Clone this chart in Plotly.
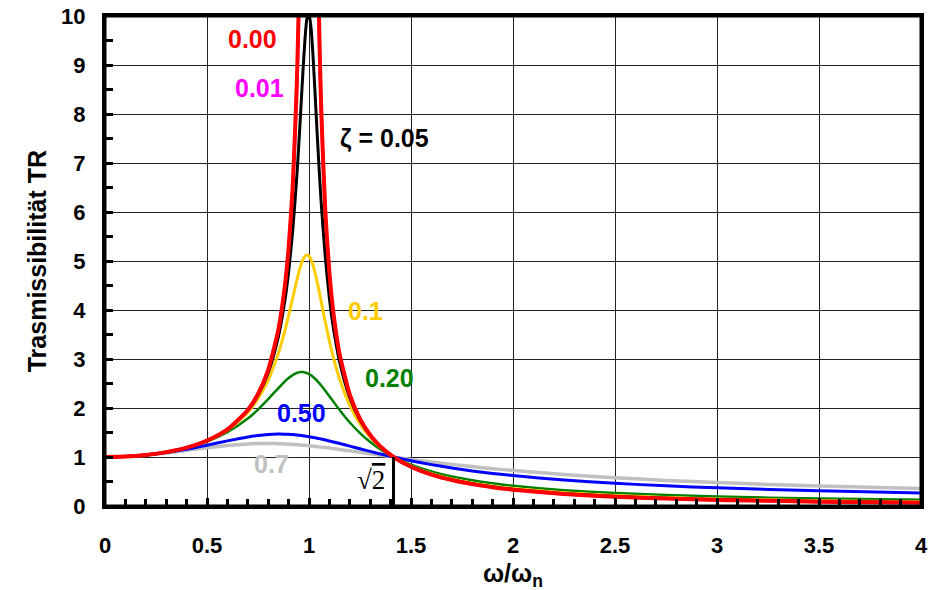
import plotly.graph_objects as go

# frequency ratio omega/omega_n (shared x values)
ratio = [0, 0.1, 0.2, 0.3, 0.4, 0.5, 0.6, 0.7, 0.75, 0.8, 0.85, 0.88, 0.9, 0.92, 0.94,
         0.95, 0.96, 0.97, 0.98, 0.99, 1.0, 1.01, 1.02, 1.03, 1.04, 1.05, 1.06, 1.08,
         1.1, 1.12, 1.15, 1.2, 1.25, 1.3, 1.35, 1.4142, 1.5, 1.6, 1.7, 1.8, 1.9, 2.0,
         2.25, 2.5, 2.75, 3.0, 3.5, 4.0]

tr_000 = [1, 1.0101, 1.0417, 1.0989, 1.1905, 1.3333, 1.5625, 1.9608, 2.2857, 2.7778,
          3.6036, 4.4326, 5.2632, 6.5104, 8.5911, 10.256, 12.755, 16.92, 25.25, 50.25,
          None, 49.75, 24.75, 16.42, 12.255, 9.7561, 8.0906, 6.0096, 4.7619, 3.9308,
          3.1008, 2.2727, 1.7778, 1.4493, 1.2158, 1.0, 0.8, 0.64103, 0.5291, 0.44643,
          0.38314, 0.33333, 0.24615, 0.19048, 0.15238, 0.125, 0.088889, 0.066667]

tr_001 = [1, 1.0101, 1.0417, 1.0989, 1.1905, 1.3333, 1.5623, 1.9602, 2.2846, 2.7754,
          3.5974, 4.420, 5.2405, 6.465, 8.483, 10.069, 12.391, 16.08, 22.63, 35.62,
          50.01, 35.10, 22.10, 15.56, 11.878, 9.560, 7.976, 5.961, 4.737, 3.9166,
          3.0937, 2.2700, 1.7766, 1.4487, 1.2156, 1.0, 0.80013, 0.6412, 0.5293, 0.4467,
          0.3834, 0.33357, 0.2463, 0.1906, 0.1525, 0.1252, 0.0891, 0.066879]

tr_005 = [1, 1.0101, 1.0416, 1.0988, 1.1901, 1.3320, 1.5585, 1.9473, 2.2592, 2.7203,
          3.4580, 4.1456, 4.7757, 5.6088, 6.7133, 7.3791, 8.1051, 8.8452, 9.5063, 9.9514,
          10.050, 9.7600, 9.1623, 8.4014, 7.6055, 6.8525, 6.1759, 5.0702, 4.2437, 3.6201,
          2.9398, 2.2084, 1.7489, 1.4362, 1.2106, 1.0, 0.80319, 0.6458, 0.53453, 0.45215,
          0.38897, 0.33918, 0.25192, 0.19612, 0.1579, 0.13041, 0.094131, 0.071777]

tr_010 = [1, 1.0101, 1.0416, 1.0985, 1.1889, 1.3282, 1.5468, 1.9093, 2.1863, 2.5707,
          3.1169, 3.5486, 3.8822, 4.2422, 4.6017, 4.7664, 4.9099, 5.0228, 5.0962, 5.1228,
          5.0990, 5.0257, 4.9076, 4.7529, 4.5713, 4.3727, 4.1656, 3.7521, 3.3666, 3.0233,
          2.5904, 2.0519, 1.6745, 1.4013, 1.1965, 1.0, 0.81216, 0.65932, 0.55002, 0.46847,
          0.4056, 0.35586, 0.26829, 0.212, 0.1733, 0.14537, 0.10829, 0.085254]

tr_020 = [1, 1.0101, 1.0414, 1.0973, 1.1843, 1.3138, 1.5046, 1.7849, 1.9681, 2.1798,
          2.4067, 2.5357, 2.6110, 2.6721, 2.7143, 2.7268, 2.7332, 2.7330, 2.7261, 2.7126,
          2.6926, 2.6663, 2.6343, 2.5969, 2.5549, 2.5088, 2.4594, 2.3531, 2.2409, 2.1269,
          1.9593, 1.7035, 1.4856, 1.3045, 1.1551, 1.0, 0.84108, 0.70412, 0.60206, 0.52372,
          0.46204, 0.41246, 0.32333, 0.26462, 0.22342, 0.1931, 0.15176, 0.12508]

tr_050 = [1, 1.0100, 1.0400, 1.0896, 1.1576, 1.2403, 1.3293, 1.4094, 1.4396, 1.4598,
          1.4678, 1.4663, 1.4626, 1.4568, 1.4490, 1.4443, 1.4392, 1.4336, 1.4276, 1.4211,
          1.4142, 1.4070, 1.3993, 1.3913, 1.3830, 1.3744, 1.3655, 1.3470, 1.3275, 1.3073,
          1.2760, 1.2221, 1.1678, 1.1144, 1.0628, 1.0, 0.92329, 0.84434, 0.77587, 0.71656,
          0.66508, 0.62017, 0.5302, 0.46306, 0.41125, 0.37012, 0.30896, 0.26559]

tr_070 = [1, 1.0099, 1.0385, 1.0822, 1.1353, 1.1898, 1.2367, 1.2674, 1.2747, 1.2763,
          1.2721, 1.2669, 1.2624, 1.2571, 1.2511, 1.2478, 1.2443, 1.2407, 1.2369, 1.2330,
          1.2289, 1.2247, 1.2203, 1.2158, 1.2112, 1.2065, 1.2017, 1.1917, 1.1814, 1.1707,
          1.1543, 1.1258, 1.0965, 1.0669, 1.0374, 1.0, 0.95175, 0.89867, 0.84943, 0.80411,
          0.76255, 0.72453, 0.6429, 0.5769, 0.52281, 0.47783, 0.40755, 0.35529]

x_ticks = [0, 0.5, 1, 1.5, 2, 2.5, 3, 3.5, 4]
x_tick_text = ["0", "0.5", "1", "1.5", "2", "2.5", "3", "3.5", "4"]
y_ticks = list(range(0, 11))
sqrt2 = 1.4142

FONT = "Liberation Sans, Arial, sans-serif"

fig = go.Figure()

series = [
    (tr_070, "#C0C0C0", 3.5, "ζ = 0.7"),
    (tr_050, "#0000FF", 3, "ζ = 0.50"),
    (tr_020, "#008000", 2.5, "ζ = 0.20"),
    (tr_010, "#FFCC00", 3, "ζ = 0.1"),
    (tr_001, "#FF00FF", 3, "ζ = 0.01"),
    (tr_005, "#000000", 3, "ζ = 0.05"),
    (tr_000, "#FF0000", 4, "ζ = 0.00"),
]
for ys, col, w, name in series:
    fig.add_trace(go.Scatter(x=ratio, y=ys, mode="lines", name=name,
                             line=dict(color=col, width=w, shape="spline", smoothing=0.6),
                             connectgaps=False, showlegend=False))

labels = [
    ("0.00", 0.723, 9.53, "#FF0000"),
    ("0.01", 0.757, 8.53, "#FF00FF"),
    ("ζ = 0.05", 1.368, 7.51, "#000000"),
    ("0.1", 1.279, 3.98, "#FFCC00"),
    ("0.20", 1.395, 2.62, "#008000"),
    ("0.50", 0.961, 1.90, "#0000FF"),
    ("0.7", 0.814, 0.86, "#C0C0C0"),
]
for txt, x, y, col in labels:
    fig.add_annotation(x=x, y=y, text="<b>" + txt + "</b>", showarrow=False,
                       font=dict(family=FONT, size=25, color=col),
                       xanchor="center", yanchor="middle")

fig.add_annotation(x=1.304, y=0.53, text="√<span style='text-decoration:overline'>2</span>",
                   showarrow=False, font=dict(family="Liberation Serif, Times New Roman, serif",
                                              size=27, color="black"),
                   xanchor="center", yanchor="middle")

fig.add_shape(type="line", x0=sqrt2, x1=sqrt2, y0=0, y1=1, xref="x", yref="y",
              line=dict(color="black", width=3))

# frame around the plot area
fig.add_shape(type="rect", xref="paper", yref="paper", x0=0, x1=1, y0=0, y1=1,
              line=dict(color="black", width=3), fillcolor="rgba(0,0,0,0)", layer="above")

# axis titles
fig.add_annotation(xref="paper", yref="paper", x=-0.083, y=0.50, textangle=-90,
                   text="<b>Trasmissibilität TR</b>", showarrow=False,
                   font=dict(family=FONT, size=25, color="black"),
                   xanchor="center", yanchor="middle")
fig.add_annotation(xref="paper", yref="paper", x=0.5, y=-0.14,
                   text="<b>ω/ω<sub>n</sub></b>", showarrow=False,
                   font=dict(family=FONT, size=25, color="black"),
                   xanchor="center", yanchor="middle")

fig.update_layout(
    width=942, height=590,
    margin=dict(l=97, r=29, t=8, b=92, autoexpand=False),
    paper_bgcolor="white", plot_bgcolor="white",
    font=dict(family=FONT, size=22, color="black"),
    xaxis=dict(range=[0, 4], tickvals=x_ticks, ticktext=["<b>" + t + "</b>" for t in x_tick_text],
               automargin=False, ticklabeloverflow="allow",
               showgrid=True, gridcolor="#222222", gridwidth=1,
               showline=True, linecolor="black", linewidth=3, mirror=True,
               ticks="inside", ticklen=8, tickwidth=3, tickcolor="black",
               ticklabelstandoff=18, zeroline=False,
               minor=dict(dtick=0.1, ticks="inside", ticklen=7, tickwidth=3,
                          tickcolor="black", showgrid=False)),
    yaxis=dict(range=[0, 10], tickvals=y_ticks, ticktext=["<b>%d</b>" % v for v in y_ticks],
               automargin=False, ticklabeloverflow="allow",
               showgrid=True, gridcolor="#222222", gridwidth=1,
               showline=True, linecolor="black", linewidth=3, mirror=True,
               ticks="inside", ticklen=8, tickwidth=3, tickcolor="black",
               ticklabelstandoff=12, zeroline=False,
               minor=dict(dtick=0.5, ticks="inside", ticklen=8, tickwidth=3,
                          tickcolor="black", showgrid=False)),
)

fig.write_html("out.html")
